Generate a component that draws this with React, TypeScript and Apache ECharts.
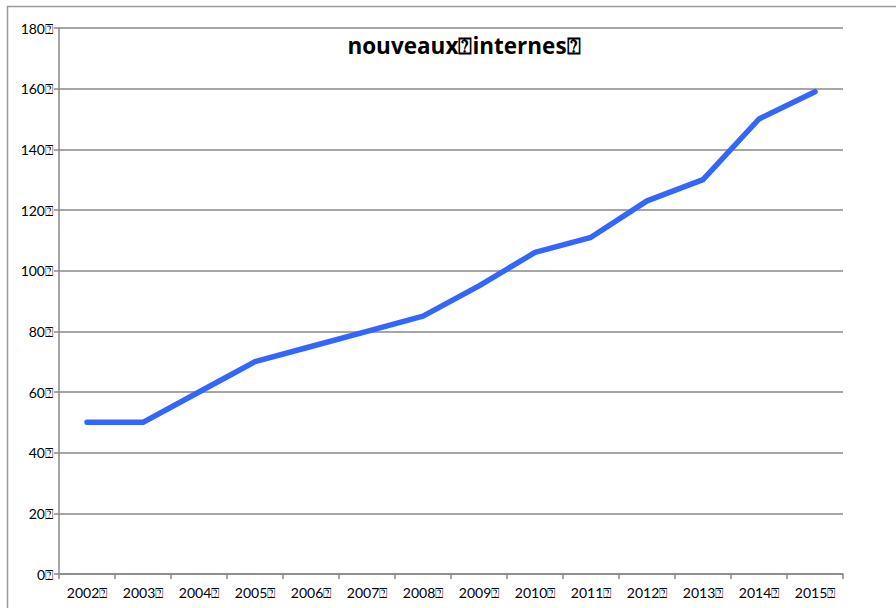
import React, { useEffect, useRef } from "react";
import * as echarts from "echarts";

const BOX = "\u2370";
const years = ["2002", "2003", "2004", "2005", "2006", "2007", "2008", "2009", "2010", "2011", "2012", "2013", "2014", "2015"];
const values = [50, 50, 60, 70, 75, 80, 85, 95, 106, 111, 123, 130, 150, 159];
const titleText = "nouveaux" + BOX + "internes" + BOX;

export default function App() {
  const ref = useRef<HTMLDivElement>(null);
  useEffect(() => {
    if (!ref.current) return;
    const chart = echarts.init(ref.current, null, { renderer: "svg" });
    chart.setOption({
      animation: false,
      backgroundColor: "#ffffff",
      title: {
        text: titleText,
        left: 459,
        top: 29,
        textAlign: "center",
        textStyle: { fontFamily: "Open Sans", fontWeight: "bold", fontSize: 22.5, color: "#000" },
      },
      graphic: [
        {
          type: "rect",
          shape: { x: 7.5, y: 6.5, width: 1000, height: 1000 },
          style: { fill: "none", stroke: "#999", lineWidth: 1.5 },
          silent: true,
        },
      ],
      grid: { left: 59, right: 53, top: 28, bottom: 34, containLabel: false },
      xAxis: {
        type: "category",
        data: years,
        boundaryGap: true,
        axisLine: { lineStyle: { color: "#888", width: 1.5 } },
        axisTick: { show: true, length: 5, lineStyle: { color: "#888", width: 1.5 } },
        axisLabel: {
          formatter: (v: string) => v + BOX,
          fontFamily: "Lato",
          fontSize: 14,
          color: "#000",
          margin: 11,
        },
        splitLine: { show: false },
      },
      yAxis: {
        type: "value",
        min: 0,
        max: 180,
        interval: 20,
        axisLine: { show: true, lineStyle: { color: "#888", width: 1.5 } },
        axisTick: { show: true, length: 5, lineStyle: { color: "#888", width: 1.5 } },
        axisLabel: {
          formatter: (v: number) => v + BOX,
          fontFamily: "Lato",
          fontSize: 14,
          color: "#000",
          margin: 6,
        },
        splitLine: { lineStyle: { color: "#888", width: 1.5 } },
      },
      series: [
        {
          type: "line",
          data: values,
          symbol: "none",
          lineStyle: { color: "#3366ff", width: 5.5, cap: "round", join: "round" },
        },
      ],
    });
    return () => chart.dispose();
  }, []);
  return <div ref={ref} style={{ width: 896, height: 608, position: "absolute", left: 0, top: 0 }} />;
}
